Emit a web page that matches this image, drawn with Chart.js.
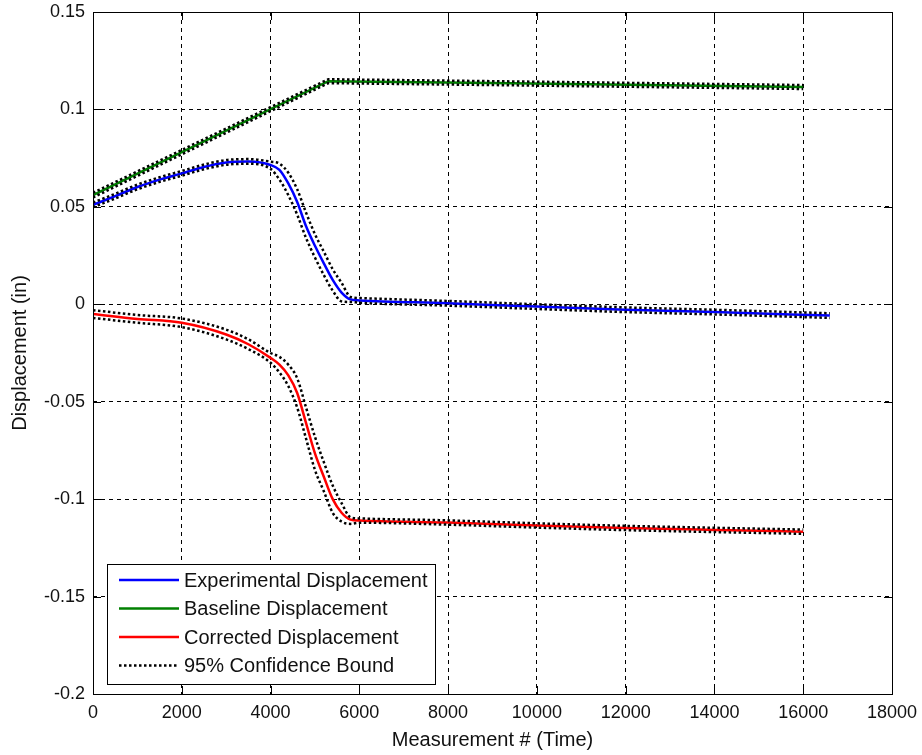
<!DOCTYPE html>
<html>
<head>
<meta charset="utf-8">
<script src="https://cdn.jsdelivr.net/npm/chart.js@4.4.1/dist/chart.umd.min.js"></script>
<style>
  html, body { margin: 0; padding: 0; background: #fff; }
  #chart { display: block; }
</style>
</head>
<body>
<canvas id="chart" width="922" height="755"></canvas>
<script>
// Experimental displacement (blue)
var expX     = [0, 500, 1000, 1500, 2000, 2500, 3000, 3500, 4000, 4200, 4400, 4600, 4800, 5000, 5200, 5400, 5600, 5800, 6000, 8000, 10000, 12000, 14000, 16600];
var expY     = [0.051, 0.0555, 0.0602, 0.064, 0.0672, 0.0705, 0.0728, 0.0733, 0.0715, 0.069, 0.062, 0.0525, 0.040, 0.030, 0.021, 0.0125, 0.006, 0.0025, 0.002, 0.0005, -0.0012, -0.0028, -0.004, -0.0058];
var expUpper = [0.0522, 0.0567, 0.0614, 0.0652, 0.0684, 0.0717, 0.074, 0.0745, 0.0732, 0.0722, 0.0675, 0.059, 0.047, 0.036, 0.027, 0.018, 0.011, 0.0038, 0.0032, 0.0017, 0.0000, -0.0016, -0.0028, -0.0046];
var expLower = [0.0498, 0.0543, 0.059, 0.0628, 0.066, 0.0693, 0.0716, 0.0721, 0.0695, 0.064, 0.056, 0.046, 0.034, 0.024, 0.015, 0.007, 0.0015, 0.0012, 0.0008, -0.0007, -0.0024, -0.004, -0.0052, -0.007];

// Baseline displacement (green)
var baseX     = [0, 5300, 9000, 12500, 16000];
var baseY     = [0.056, 0.1145, 0.1135, 0.1125, 0.1115];
var baseUpper = [0.0572, 0.1155, 0.1145, 0.1135, 0.1125];
var baseLower = [0.0548, 0.1135, 0.1125, 0.1115, 0.1105];

// Corrected displacement (red)
var corrX     = [0, 1000, 2000, 3000, 3500, 4000, 4200, 4400, 4600, 4800, 5000, 5200, 5400, 5600, 5800, 6000, 8000, 10000, 12000, 14000, 16000];
var corrY     = [-0.005, -0.0075, -0.0095, -0.0155, -0.0205, -0.0275, -0.031, -0.0365, -0.0455, -0.061, -0.0765, -0.0885, -0.1, -0.107, -0.1105, -0.111, -0.112, -0.1135, -0.1148, -0.1158, -0.1167];
var corrUpper = [-0.003, -0.0055, -0.0073, -0.013, -0.018, -0.025, -0.027, -0.031, -0.038, -0.053, -0.068, -0.081, -0.093, -0.102, -0.1093, -0.1099, -0.1109, -0.1124, -0.1137, -0.1147, -0.1156];
var corrLower = [-0.007, -0.0095, -0.0117, -0.018, -0.023, -0.030, -0.035, -0.042, -0.053, -0.069, -0.085, -0.096, -0.107, -0.1115, -0.1127, -0.1121, -0.1131, -0.1146, -0.1159, -0.1169, -0.1178];

// Axes and legend text
var xTitle = 'Measurement # (Time)';
var yTitle = 'Displacement (in)';
var xMin = 0, xMax = 18000, xStep = 2000;
var yMin = -0.2, yMax = 0.15, yStep = 0.05;
var legendLabels = ['Experimental Displacement', 'Baseline Displacement', 'Corrected Displacement', '95% Confidence Bound'];
var legendColors = ['#0000ff', '#008000', '#ff0000', '#000000'];

var FONT = 'Arial, "Liberation Sans", sans-serif';

function pts(xs, ys) {
    return xs.map(function(x, i) { return { x: x, y: ys[i] }; });
}

function curve(label, xs, ys, color, smooth) {
    var ds = {
        label: label,
        data: pts(xs, ys),
        borderColor: color,
        borderWidth: 2.5,
        pointRadius: 0,
        fill: false,
        tension: 0
    };
    if (smooth) ds.cubicInterpolationMode = 'monotone';
    return ds;
}

function bound(xs, ys, smooth) {
    var ds = curve('95% Confidence Bound', xs, ys, '#000000', smooth);
    ds.borderDash = [2.5, 2.5];
    return ds;
}

// Frame with inward tick marks, and the legend box inside the plot
var matlabFrame = {
    id: 'matlabFrame',
    afterDraw: function(chart) {
        var ctx = chart.ctx;
        var a = chart.chartArea;
        var xs = chart.scales.x, ys = chart.scales.y;
        var tl = 8;

        ctx.save();
        ctx.strokeStyle = '#000';
        ctx.lineWidth = 1;
        ctx.setLineDash([]);
        ctx.strokeRect(Math.round(a.left) + 0.5, Math.round(a.top) + 0.5,
            Math.round(a.right - a.left), Math.round(a.bottom - a.top));

        ctx.beginPath();
        xs.ticks.forEach(function(t) {
            var px = Math.round(xs.getPixelForValue(t.value)) + 0.5;
            ctx.moveTo(px, a.bottom); ctx.lineTo(px, a.bottom - tl);
            ctx.moveTo(px, a.top); ctx.lineTo(px, a.top + tl);
        });
        ys.ticks.forEach(function(t) {
            var py = Math.round(ys.getPixelForValue(t.value)) + 0.5;
            ctx.moveTo(a.left, py); ctx.lineTo(a.left + tl, py);
            ctx.moveTo(a.right, py); ctx.lineTo(a.right - tl, py);
        });
        ctx.stroke();

        // legend
        var bx = 107.5, by = 564.5, bw = 328, bh = 120;
        ctx.fillStyle = '#fff';
        ctx.fillRect(bx, by, bw, bh);
        ctx.strokeRect(bx, by, bw, bh);
        ctx.font = '20px ' + FONT;
        ctx.textBaseline = 'middle';
        ctx.textAlign = 'left';
        for (var i = 0; i < legendLabels.length; i++) {
            var rowY = 580 + i * 28.5;
            ctx.beginPath();
            ctx.strokeStyle = legendColors[i];
            ctx.lineWidth = 2.5;
            if (i === legendLabels.length - 1) ctx.setLineDash([2.5, 2.5]);
            else ctx.setLineDash([]);
            ctx.moveTo(119, rowY);
            ctx.lineTo(179, rowY);
            ctx.stroke();
            ctx.fillStyle = '#111';
            ctx.fillText(legendLabels[i], 184, rowY + 1);
        }
        ctx.restore();
    }
};

var gridOpts = {
    color: '#000',
    lineWidth: 1,
    drawTicks: false
};

new Chart(document.getElementById('chart'), {
    type: 'line',
    data: {
        datasets: [
            bound(expX, expUpper, true), bound(expX, expLower, true),
            bound(baseX, baseUpper, false), bound(baseX, baseLower, false),
            bound(corrX, corrUpper, true), bound(corrX, corrLower, true),
            curve('Experimental Displacement', expX, expY, '#0000ff', true),
            curve('Baseline Displacement', baseX, baseY, '#008000', false),
            curve('Corrected Displacement', corrX, corrY, '#ff0000', true)
        ]
    },
    options: {
        responsive: false,
        animation: false,
        events: [],
        layout: { padding: { top: 12, right: 30, left: 0, bottom: 0 } },
        plugins: {
            legend: { display: false },
            tooltip: { enabled: false },
            title: { display: false }
        },
        scales: {
            x: {
                type: 'linear',
                min: xMin,
                max: xMax,
                grid: gridOpts,
                border: { display: false, dash: [4, 4] },
                ticks: {
                    stepSize: xStep,
                    padding: 8,
                    maxRotation: 0,
                    color: '#111',
                    font: { family: FONT, size: 18 },
                    callback: function(v) { return String(v); }
                },
                title: {
                    display: true,
                    text: xTitle,
                    color: '#111',
                    font: { family: FONT, size: 20 },
                    padding: { top: 0, bottom: 3 }
                },
                afterFit: function(scale) {
                    scale.height = 61;
                    scale.paddingLeft = 0;
                    scale.paddingRight = 0;
                }
            },
            y: {
                type: 'linear',
                min: yMin,
                max: yMax,
                grid: gridOpts,
                border: { display: false, dash: [4, 4] },
                ticks: {
                    stepSize: yStep,
                    padding: 8,
                    color: '#111',
                    font: { family: FONT, size: 18 },
                    callback: function(v) { return String(parseFloat(v.toFixed(2))); }
                },
                title: {
                    display: true,
                    text: yTitle,
                    color: '#111',
                    font: { family: FONT, size: 20 },
                    padding: { top: 8, bottom: 0 }
                },
                afterFit: function(scale) {
                    scale.width = 93;
                    scale.paddingTop = 0;
                    scale.paddingBottom = 0;
                }
            }
        }
    },
    plugins: [matlabFrame]
});
</script>
</body>
</html>
